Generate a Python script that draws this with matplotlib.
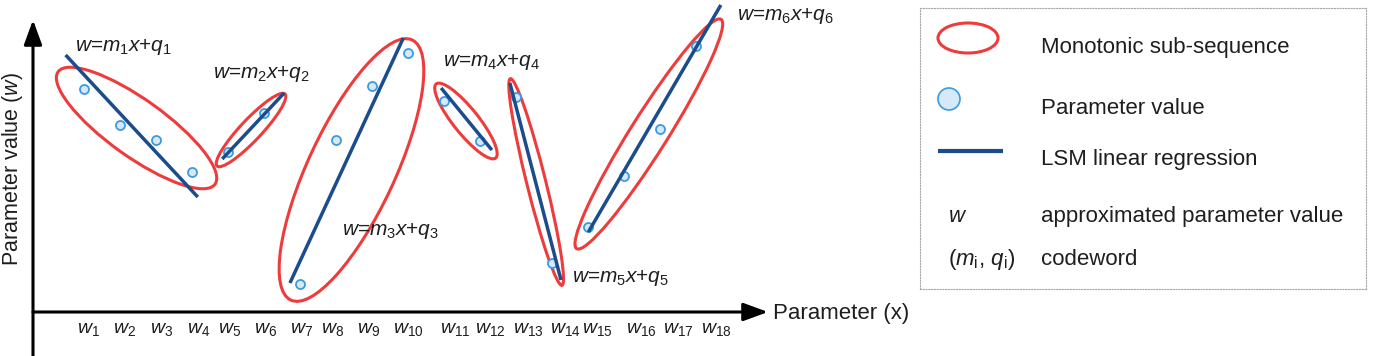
import matplotlib
matplotlib.use("Agg")
import matplotlib.pyplot as plt
from matplotlib.patches import Ellipse, Circle
from matplotlib.transforms import ScaledTranslation

plt.rcParams['font.family'] = ['Liberation Sans', 'DejaVu Sans']
plt.rcParams['mathtext.fontset'] = 'custom'
plt.rcParams['mathtext.rm'] = 'Liberation Sans'
plt.rcParams['mathtext.it'] = 'Liberation Sans:italic'
plt.rcParams['mathtext.bf'] = 'Liberation Sans:bold'

# parameter values w1..w18
x_idx = list(range(1, 19))
w_val = [22.3, 18.7, 17.2, 14.0, 16.0, 19.9, 2.8, 17.2, 22.6, 25.9,
         21.1, 17.1, 21.5, 4.9, 8.5, 13.6, 18.3, 26.6]

# x tick labels and where they start
tick_labels = [r"$w_{%d}$" % i for i in x_idx]
tick_x = [0.81, 1.81, 2.83, 3.86, 4.72, 5.72, 6.72, 7.58, 8.58, 9.58,
          10.89, 11.86, 12.92, 13.94, 14.83, 16.06, 17.08, 18.14]

# LSM regression segments (one per monotonic sub-sequence)
seg_x0 = [0.49, 4.84, 6.72, 10.92, 12.83, 15.01]
seg_x1 = [4.16, 6.56, 9.87, 12.33, 14.25, 18.69]
seg_w0 = [25.7, 15.3, 2.9, 22.4, 22.9, 8.0]
seg_w1 = [11.5, 21.9, 27.4, 16.2, 3.2, 30.7]

# sub-sequence ellipses: centre
ell_x = [2.46, 5.64, 8.43, 11.61, 13.56, 16.69]
ell_w = [18.4, 18.2, 14.2, 19.1, 13.0, 17.8]
# ellipse shape in pixels (width, height, angle)
ell_shape = [(193, 57, -35.6), (99, 21, 46.7), (287, 87, 65.0),
             (95, 25, -51.3), (213, 19, -76.0), (271, 37, 57.8)]

# equation labels
eq_labels = [r"$w\text{=}m_{%d}x\text{+}q_{%d}$" % (k, k) for k in range(1, 7)]
eq_x = [0.75, 4.58, 8.16, 10.98, 14.55, 19.13]
eq_w = [26.1, 23.4, 7.7, 24.6, 3.0, 29.2]

legend_text = ['Monotonic sub-sequence', 'Parameter value', 'LSM linear regression',
               'approximated parameter value', 'codeword']
legend_sym = [r'$w$', r'$(m_\mathrm{i},\, q_\mathrm{i})$']

red = '#ee3b3b'
blue = '#1b4c8c'
pt_edge = '#3b9be0'
pt_face = '#d5e9f8'
txt = '#1e1e1e'

fig = plt.figure(figsize=(13.74, 3.56), dpi=100)
ax = fig.add_axes([0, 0, 1, 1])
ax.set_xlim(-1.3333, 36.8333)
ax.set_ylim(-4.4, 31.2)
ax.axis('off')

# axes with arrows
arrow = dict(arrowstyle='-|>,head_length=1.5,head_width=0.55', lw=2.2,
             color='black', shrinkA=0, shrinkB=0)
ax.annotate('', xy=(-0.4167, 29.2), xytext=(-0.4167, -4.8), arrowprops=arrow)
ax.annotate('', xy=(20.0, 0), xytext=(-0.4167, 0), arrowprops=arrow)

ax.text(20.14, -0.73, 'Parameter (x)', fontsize=16, color=txt, ha='left', va='baseline')
ax.text(-0.83, 14.3, 'Parameter value ($w$)', fontsize=15.5, color=txt, rotation=90,
        rotation_mode='anchor', ha='center', va='baseline')

for lab, tx in zip(tick_labels, tick_x):
    ax.text(tx, -2.1, lab, fontsize=14, color=txt, ha='left', va='baseline')

# ellipses
for cx, cw, (ew, eh, ang) in zip(ell_x, ell_w, ell_shape):
    tr = fig.dpi_scale_trans + ScaledTranslation(cx, cw, ax.transData)
    ax.add_patch(Ellipse((0, 0), ew / 100, eh / 100, angle=ang, transform=tr,
                         fill=False, ec=red, lw=2.2, zorder=2))

ax.plot(x_idx, w_val, 'o', ms=6.5, mfc=pt_face, mec=pt_edge, mew=1.3, ls='none', zorder=3)

for x0, x1, w0, w1 in zip(seg_x0, seg_x1, seg_w0, seg_w1):
    ax.plot([x0, x1], [w0, w1], color=blue, lw=2.5, solid_capstyle='butt', zorder=4)

for lab, ex, ew in zip(eq_labels, eq_x, eq_w):
    ax.text(ex, ew, lab, fontsize=15, color=txt, ha='left', va='baseline', zorder=5)

# legend box
lax = fig.add_axes([920 / 1374, 1 - 289 / 356, 446 / 1374, 281 / 356])
lax.set_xlim(0, 446)
lax.set_ylim(281, 0)
lax.set_xticks([])
lax.set_yticks([])
for s in lax.spines.values():
    s.set_linestyle((0, (1, 1.5)))
    s.set_color('#a8a8a8')
    s.set_linewidth(0.8)

lax.add_patch(Ellipse((48, 30), 60, 30, fill=False, ec=red, lw=2.2))
lax.add_patch(Circle((29, 91), 11, fc=pt_face, ec=pt_edge, lw=1.2))
lax.plot([18, 83], [143, 143], color=blue, lw=3, solid_capstyle='butt')

for lab, yb in zip(legend_text, [44.7, 106, 157, 213.7, 257]):
    lax.text(121, yb, lab, fontsize=16, color=txt, ha='left', va='baseline')
for lab, yb in zip(legend_sym, [213.7, 257]):
    lax.text(28, yb, lab, fontsize=16, color=txt, ha='left', va='baseline')

fig.savefig('out.png', dpi=100)
